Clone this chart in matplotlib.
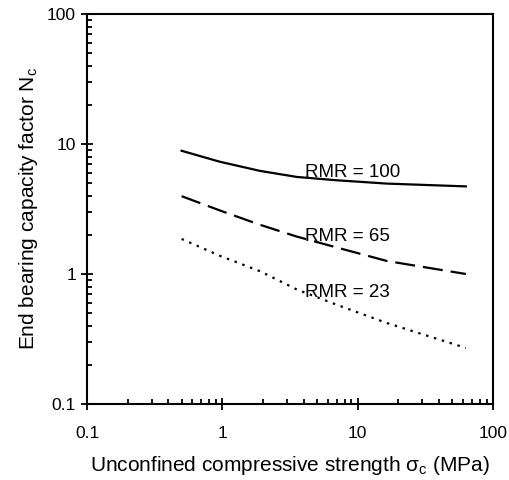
import numpy as np
import matplotlib.pyplot as plt

plt.rcParams['font.family'] = ['Liberation Sans', 'DejaVu Sans']

# values (log-log)
ucs = [0.5, 0.96, 1.9, 3.55, 7.0, 16.4, 63]
nc_rmr100 = [8.87, 7.3, 6.21, 5.58, 5.26, 4.96, 4.72]
nc_rmr65 = [3.97, 3.08, 2.39, 1.94, 1.60, 1.26, 1.0]
nc_rmr23 = [1.86, 1.38, 1.05, 0.76, 0.58, 0.42, 0.27]

curve_labels = ['RMR = 100', 'RMR = 65', 'RMR = 23']
label_x = [4.1, 4.1, 4.1]
label_y = [6.0, 1.94, 0.72]

fig = plt.figure(figsize=(5.09, 4.80), dpi=100)
ax = fig.add_axes([87 / 509, 1 - 404 / 480, 406 / 509, 390 / 480])

ax.plot(ucs, nc_rmr100, color='black', lw=1.6, ls='-')
ax.plot(ucs, nc_rmr65, color='black', lw=1.6, ls=(0, (9, 3.6)))
ax.plot(ucs, nc_rmr23, color='black', lw=1.6, ls=(0, (1.1, 2.6)))

for txt, x, y in zip(curve_labels, label_x, label_y):
    ax.text(x, y, txt, fontsize=13.5, ha='left', va='center')

ax.set_xscale('log')
ax.set_yscale('log')
ax.set_xlim(0.1, 100)
ax.set_ylim(0.1, 100)
ax.set_xticks([0.1, 1, 10, 100])
ax.set_xticklabels(['0.1', '1', '10', '100'])
ax.set_yticks([0.1, 1, 10, 100])
ax.set_yticklabels(['0.1', '1', '10', '100'])

ax.tick_params(which='both', top=False, right=False, labelsize=12.5, width=1.3)
ax.tick_params(which='major', direction='inout', length=8)
ax.tick_params(which='minor', direction='in', length=3.5)
ax.xaxis.set_tick_params(which='major', pad=12)
ax.yaxis.set_tick_params(which='major', pad=4)
for s in ax.spines.values():
    s.set_linewidth(1.5)

ax.set_xlabel('Unconfined compressive strength σ$_\\mathregular{c}$ (MPa)',
              fontsize=15, labelpad=9)
ax.set_ylabel('End bearing capacity factor N$_\\mathregular{c}$',
              fontsize=15, labelpad=5)

fig.savefig('out.png', dpi=100)
